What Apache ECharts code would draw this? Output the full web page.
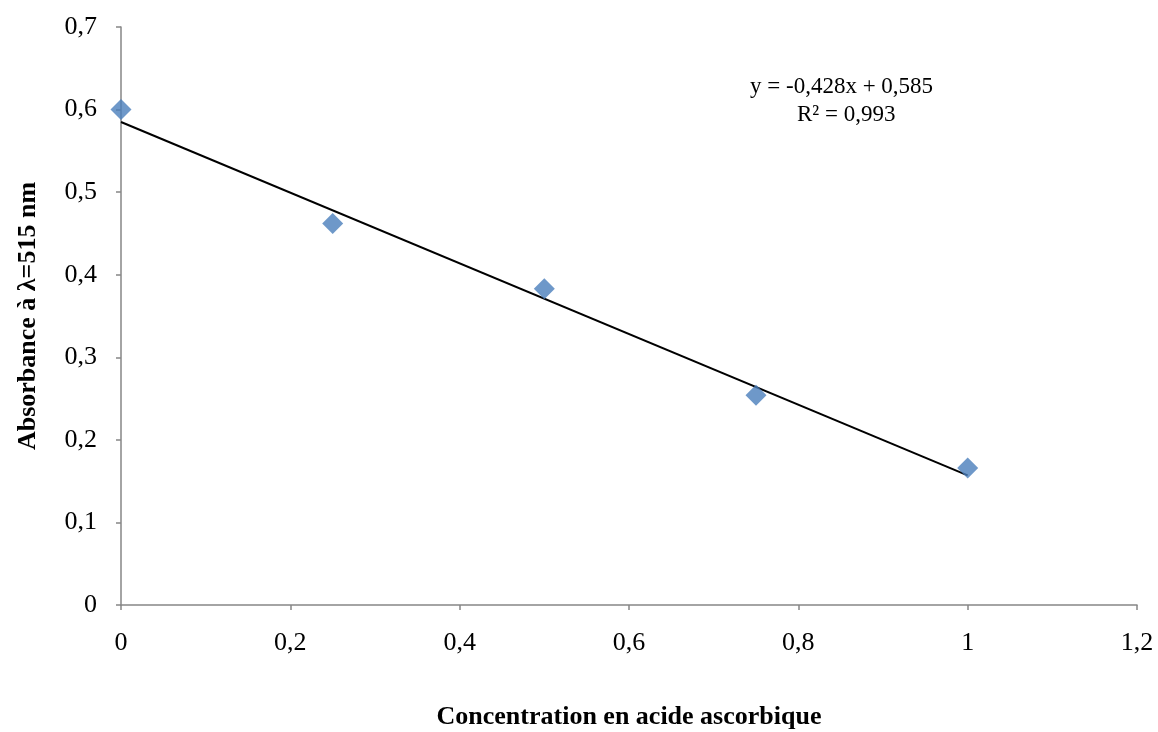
<!DOCTYPE html>
<html>
<head>
<meta charset="utf-8">
<script src="https://cdn.jsdelivr.net/npm/echarts@6/dist/echarts.min.js"></script>
<style>
	html, body { margin: 0; padding: 0; background: #fff; }
	#chart { width: 1158px; height: 732px; }
</style>
</head>
<body>
<div id="chart"></div>
<script>
// concentrations (x) and absorbances (y)
var concentrations = [0, 0.25, 0.5, 0.75, 1];
var absorbances = [0.6, 0.462, 0.383, 0.254, 0.166];

// trend line given on the chart: y = -0,428x + 0,585
var trendSlope = -0.428;
var trendIntercept = 0.585;
var trendX = [0, 1];

var eqLabel = 'y = -0,428x + 0,585';
var r2Label = 'R² = 0,993';
var xTitle = 'Concentration en acide ascorbique';
var yTitle = 'Absorbance à λ=515 nm';

function fmt(v){
	return String(+v.toFixed(2)).replace('.', ',');
}

var points = concentrations.map(function(c, i){ return [c, absorbances[i]]; });
var trend = trendX.map(function(x){ return [x, trendSlope * x + trendIntercept]; });

var myChart = echarts.init(document.getElementById('chart'));
var axisGray = '#868686';
var option = {
	animation: false,
	grid: {
		left: 121,
		right: 21,
		top: 27,
		bottom: 127,
		containLabel: false,
		outerBoundsMode: 'none'
	},
	xAxis: {
		type: 'value',
		min: 0,
		max: 1.2,
		interval: 0.2,
		name: xTitle,
		nameLocation: 'middle',
		nameGap: 99,
		nameTextStyle: {
			fontFamily: 'Liberation Serif',
			fontWeight: 'bold',
			fontSize: 26,
			color: '#000'
		},
		axisLine: { lineStyle: { color: axisGray, width: 1.5 } },
		axisTick: { show: true, inside: false, length: 5, lineStyle: { color: axisGray, width: 1.5 } },
		axisLabel: {
			margin: 25,
			fontFamily: 'Liberation Serif',
			fontSize: 26,
			color: '#000',
			formatter: fmt
		},
		splitLine: { show: false }
	},
	yAxis: {
		type: 'value',
		min: 0,
		max: 0.7,
		interval: 0.1,
		name: yTitle,
		nameLocation: 'middle',
		nameGap: 80,
		nameRotate: 90,
		nameTextStyle: {
			fontFamily: 'Liberation Serif',
			fontWeight: 'bold',
			fontSize: 26,
			color: '#000'
		},
		axisLine: { show: true, lineStyle: { color: axisGray, width: 1.5 } },
		axisTick: { show: true, inside: false, length: 5, lineStyle: { color: axisGray, width: 1.5 } },
		axisLabel: {
			margin: 24,
			fontFamily: 'Liberation Serif',
			fontSize: 26,
			color: '#000',
			formatter: fmt
		},
		splitLine: { show: false }
	},
	series: [{
		name: 'trend',
		type: 'line',
		data: trend,
		showSymbol: false,
		lineStyle: { color: '#000', width: 2 },
		z: 2
	}, {
		name: 'absorbance',
		type: 'scatter',
		data: points,
		symbol: 'diamond',
		symbolSize: [21, 21],
		itemStyle: { color: '#4a7ebb' },
		z: 3
	}],
	graphic: [{
		type: 'text',
		left: 750,
		top: 75,
		style: {
			text: eqLabel,
			font: '23px "Liberation Serif"',
			fill: '#000'
		}
	}, {
		type: 'text',
		left: 797,
		top: 103,
		style: {
			text: r2Label,
			font: '23px "Liberation Serif"',
			fill: '#000'
		}
	}]
};

myChart.setOption(option);
window.addEventListener("resize", function(){
	myChart.resize();
});
</script>
</body>
</html>
